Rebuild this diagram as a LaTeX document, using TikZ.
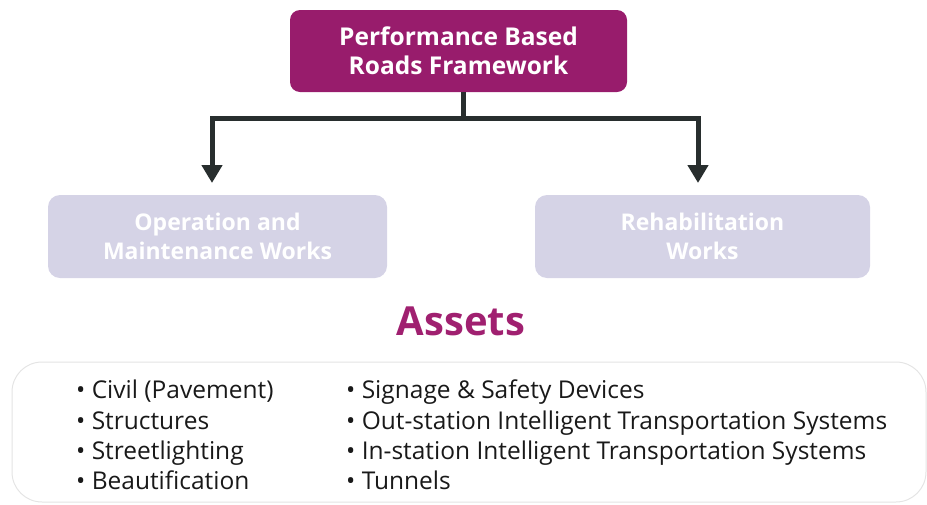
\documentclass[tikz,border=0pt]{standalone}
\usepackage{fontspec}
\setmainfont{Open Sans}
\usetikzlibrary{arrows.meta}
\definecolor{topmag}{RGB}{152,28,108}
\definecolor{assetmag}{RGB}{160,32,112}
\definecolor{lav}{RGB}{213,211,230}
\definecolor{arrowc}{RGB}{40,46,46}
\definecolor{faint}{RGB}{228,228,228}
\tikzset{
  topbox/.style={fill=topmag, rounded corners=10pt, minimum width=337pt, minimum height=82pt, text=white, align=center, font=\fontsize{24.5}{29}\selectfont\bfseries, inner sep=0pt},
  subbox/.style={fill=lav, rounded corners=12pt, minimum height=83pt, text=white, align=center, font=\fontsize{23}{29}\selectfont\bfseries, inner sep=0pt},
  conn/.style={draw=arrowc, line width=5pt},
  arr/.style={conn, -{Triangle[width=20pt,length=18pt]}},
  listtext/.style={align=left, anchor=north west, font=\fontsize{24.5}{30.2}\selectfont, inner sep=0pt, text=black!90}
}
\begin{document}
\begin{tikzpicture}[x=1pt,y=-1pt]
\useasboundingbox (0,0) rectangle (927,504);
\node[topbox] (top) at (458.5,51) {Performance Based\\Roads Framework};
\node[subbox, minimum width=339pt] (left) at (217.5,236.5) {Operation and\\Maintenance Works};
\node[subbox, minimum width=335pt] (right) at (702.5,236.5) {Rehabilitation\\Works};
\coordinate (j) at (463,118);
\coordinate (la) at (212,183);
\coordinate (ra) at (698,183);
\draw[conn] (top.south -| j) -- (j);
\draw[arr] (j) -| (la);
\draw[arr] (j) -| (ra);
\node[text=assetmag, font=\fontsize{40}{46}\selectfont\bfseries] (assets) at (461,321) {Assets};
\draw[faint, line width=1pt, rounded corners=30pt] (12,362) rectangle (926,502);
\node[listtext] (col1) at (76,380) {• Civil (Pavement)\\• Structures\\• Streetlighting\\• Beautification};
\node[listtext] (col2) at (346,380) {• Signage \& Safety Devices\\• Out-station Intelligent Transportation Systems\\• In-station Intelligent Transportation Systems\\• Tunnels};
\end{tikzpicture}
\end{document}
